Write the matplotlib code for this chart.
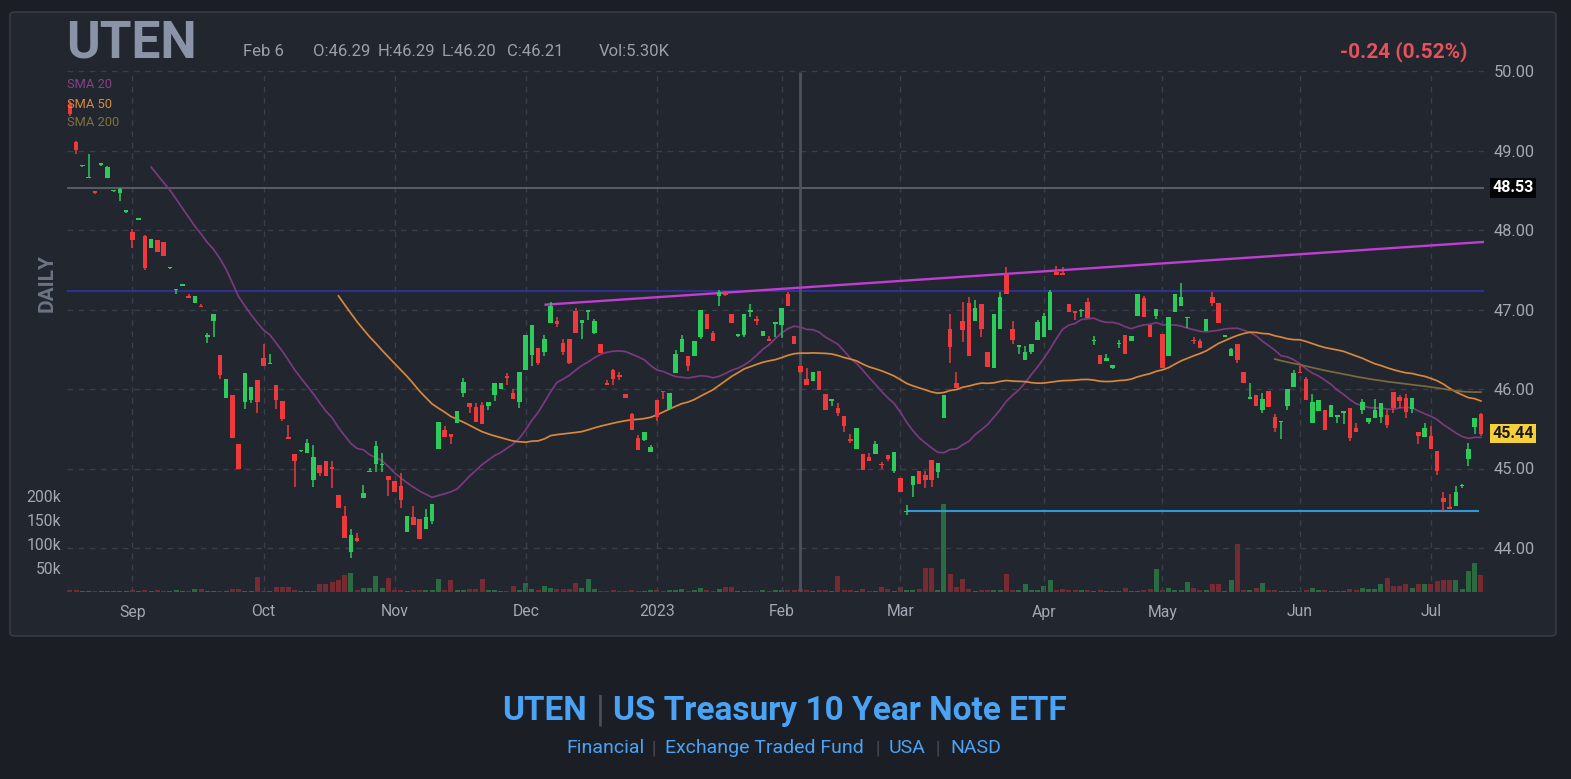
import numpy as np
import pandas as pd
import matplotlib
matplotlib.use('Agg')
import matplotlib.pyplot as plt
from matplotlib.patches import FancyBboxPatch
import matplotlib.transforms as mtransforms

plt.rcParams['font.family'] = ['Roboto', 'DejaVu Sans']

# ---------------- data ----------------
ticker = 'UTEN'
fund_name = 'US Treasury 10 Year Note ETF'
tags = ['Financial', 'Exchange Traded Fund', 'USA', 'NASD']
first_session = -10          # sessions counted from 1 Sep 2022 (= 0)

opens = [
    49.59, 49.11, 48.80, 48.65, 48.49, 48.82, 48.65, 48.49, 48.46, 48.23,   # -10..-1
    47.98, 48.13, 47.92, 47.77, 47.87, 47.85, 47.52, 47.24, 47.30, 47.16,   # 0..9
    47.08, 47.04, 46.66, 46.85, 46.43, 45.89, 45.92, 45.31, 45.84, 45.86,   # 10..19
    46.11, 46.39, 46.31, 46.05, 45.85, 45.39, 45.18, 45.22, 45.20, 44.86,   # 20..29
    45.05, 45.09, 45.01, 44.67, 44.40, 43.95, 44.12, 44.63, 44.95, 45.06,   # 30..39
    45.04, 44.91, 44.84, 44.78, 44.20, 44.39, 44.36, 44.24, 44.34, 45.25,   # 40..49
    45.48, 45.44, 45.57, 45.95, 45.82, 45.77, 45.80, 45.78, 45.92, 46.00,   # 50..59
    46.15, 45.95, 45.84, 46.24, 46.43, 46.52, 46.47, 46.83, 46.85, 46.58,   # 60..69
    46.63, 46.98, 46.83, 46.97, 46.71, 46.57, 46.07, 46.24, 46.18, 45.94,   # 70..79
    45.69, 45.38, 45.36, 45.21, 45.86, 45.97, 45.75, 46.20, 46.47, 46.42,   # 80..89
    46.42, 46.66, 46.94, 46.70, 47.17, 47.22, 46.94, 46.67, 46.68, 46.97,   # 90..99
    46.88, 46.67, 46.62, 46.82, 46.81, 47.19, 46.67, 46.29, 46.13, 46.10,   # 100..109
    46.23, 45.94, 45.85, 45.76, 45.66, 45.37, 45.25, 45.18, 45.15, 45.18,   # 110..119
    45.06, 45.17, 44.97, 44.88, 44.45, 44.79, 44.97, 44.92, 45.11, 44.96,   # 120..129
    45.64, 46.75, 46.07, 46.85, 47.08, 46.85, 47.07, 46.47, 46.26, 46.76,   # 130..139
    47.43, 46.76, 46.53, 46.37, 46.47, 46.62, 46.65, 46.74, 47.47, 47.46,   # 140..149
    47.07, 46.98, 46.98, 47.09, 46.60, 46.43, 46.35, 46.27, 46.56, 46.68,   # 150..159
    46.61, 46.92, 47.14, 46.81, 46.92, 46.69, 46.41, 46.97, 47.05, 46.89,   # 160..169
    46.61, 46.60, 46.73, 47.16, 47.08, 46.66, 46.41, 46.57, 46.21, 45.88,   # 170..179
    45.92, 45.74, 45.97, 45.65, 45.58, 45.78, 46.02, 46.22, 46.12, 45.57,   # 180..189
    45.72, 45.74, 45.65, 45.65, 45.70, 45.76, 45.51, 45.74, 45.59, 45.64,   # 190..199
    45.65, 45.67, 45.96, 45.90, 45.89, 45.75, 45.46, 45.40, 45.41, 45.22,   # 200..209
    44.63, 44.52, 44.53, 44.78, 45.12, 45.52, 45.68,                        # 210..216
]
highs = [
    49.62, 49.12, 48.81, 48.96, 48.49, 48.83, 48.81, 48.50, 48.53, 48.24,
    48.01, 48.14, 47.94, 47.89, 47.87, 47.85, 47.53, 47.26, 47.31, 47.19,
    47.17, 47.07, 46.70, 46.94, 46.43, 46.12, 45.92, 45.31, 46.20, 46.02,
    46.11, 46.56, 46.44, 46.05, 45.85, 45.55, 45.18, 45.23, 45.37, 45.29,
    45.05, 45.09, 45.09, 44.67, 44.53, 44.24, 44.19, 44.79, 45.01, 45.35,
    45.20, 44.91, 44.84, 44.94, 44.40, 44.53, 44.36, 44.49, 44.55, 45.59,
    45.53, 45.44, 45.72, 46.14, 45.82, 45.82, 45.84, 45.84, 46.07, 46.07,
    46.20, 46.00, 46.22, 46.68, 46.80, 46.52, 46.68, 47.09, 46.91, 46.63,
    46.63, 47.02, 46.87, 47.00, 46.88, 46.57, 46.11, 46.25, 46.22, 45.94,
    45.70, 45.42, 45.46, 45.30, 45.86, 45.98, 45.95, 46.49, 46.68, 46.42,
    46.60, 46.99, 46.94, 46.73, 47.25, 47.23, 46.94, 46.68, 46.94, 47.07,
    46.92, 46.73, 46.67, 46.84, 47.02, 47.22, 46.67, 46.29, 46.27, 46.22,
    46.23, 45.94, 45.86, 45.82, 45.66, 45.44, 45.51, 45.18, 45.19, 45.34,
    45.08, 45.17, 45.21, 44.88, 44.54, 44.90, 44.97, 44.97, 45.11, 45.07,
    45.92, 46.94, 46.21, 47.10, 47.16, 47.12, 47.07, 46.47, 46.94, 47.22,
    47.53, 46.85, 46.55, 46.54, 46.57, 46.87, 46.95, 47.25, 47.55, 47.53,
    47.07, 46.98, 47.01, 47.15, 46.67, 46.43, 46.44, 46.30, 46.62, 46.68,
    46.67, 47.19, 47.17, 46.81, 47.01, 46.69, 46.90, 47.20, 47.33, 46.90,
    46.66, 46.63, 46.88, 47.22, 47.08, 46.68, 46.51, 46.57, 46.21, 46.08,
    45.92, 45.95, 45.97, 45.69, 45.59, 46.00, 46.24, 46.29, 46.15, 45.94,
    45.86, 45.74, 45.80, 45.66, 45.72, 45.76, 45.57, 45.88, 45.64, 45.87,
    45.82, 45.74, 45.96, 45.93, 45.94, 45.89, 45.46, 45.57, 45.53, 45.22,
    44.71, 44.68, 44.78, 44.81, 45.32, 45.64, 45.70,
]
lows = [
    49.44, 48.96, 48.79, 48.65, 48.45, 48.81, 48.65, 48.48, 48.37, 48.22,
    47.77, 48.12, 47.50, 47.77, 47.72, 47.67, 47.51, 47.20, 47.29, 47.15,
    47.08, 47.03, 46.58, 46.66, 46.13, 45.89, 45.38, 44.99, 45.75, 45.82,
    45.70, 46.29, 46.31, 45.75, 45.60, 45.37, 44.77, 45.21, 45.20, 44.77,
    44.90, 44.91, 44.76, 44.50, 44.13, 43.88, 44.07, 44.63, 44.95, 44.96,
    44.96, 44.65, 44.70, 44.50, 44.20, 44.29, 44.11, 44.24, 44.30, 45.25,
    45.39, 45.31, 45.57, 45.90, 45.70, 45.59, 45.56, 45.73, 45.85, 46.00,
    46.05, 45.88, 45.76, 46.24, 46.29, 46.30, 46.42, 46.83, 46.78, 46.43,
    46.31, 46.70, 46.63, 46.87, 46.69, 46.45, 46.05, 46.05, 46.11, 45.89,
    45.48, 45.23, 45.34, 45.21, 45.60, 45.88, 45.75, 46.20, 46.47, 46.23,
    46.42, 46.63, 46.75, 46.61, 47.04, 47.17, 46.83, 46.66, 46.65, 46.90,
    46.80, 46.67, 46.61, 46.65, 46.64, 47.04, 46.57, 46.20, 46.05, 46.10,
    45.99, 45.74, 45.79, 45.66, 45.46, 45.32, 45.25, 44.98, 45.09, 45.18,
    45.00, 45.09, 44.94, 44.70, 44.42, 44.64, 44.81, 44.76, 44.77, 44.88,
    45.64, 46.33, 46.01, 46.59, 46.41, 46.85, 46.66, 46.28, 46.26, 46.76,
    47.20, 46.57, 46.44, 46.37, 46.44, 46.62, 46.65, 46.74, 47.43, 47.43,
    46.97, 46.87, 46.90, 46.89, 46.55, 46.31, 46.35, 46.25, 46.52, 46.44,
    46.61, 46.92, 46.91, 46.65, 46.88, 46.27, 46.41, 46.97, 47.05, 46.77,
    46.57, 46.52, 46.73, 47.04, 46.83, 46.65, 46.41, 46.33, 46.07, 45.88,
    45.79, 45.70, 45.77, 45.46, 45.37, 45.74, 46.02, 46.20, 45.86, 45.57,
    45.72, 45.48, 45.65, 45.57, 45.56, 45.35, 45.46, 45.69, 45.56, 45.64,
    45.57, 45.51, 45.70, 45.76, 45.64, 45.70, 45.31, 45.40, 45.24, 44.92,
    44.46, 44.49, 44.53, 44.75, 45.03, 45.44, 45.41,
]
closes = [
    49.46, 49.01, 48.80, 48.66, 48.46, 48.82, 48.79, 48.49, 48.51, 48.23,
    47.87, 48.13, 47.52, 47.89, 47.72, 47.67, 47.52, 47.26, 47.30, 47.15,
    47.17, 47.03, 46.67, 46.94, 46.17, 46.12, 45.38, 44.99, 46.20, 46.02,
    45.84, 46.29, 46.32, 45.86, 45.62, 45.37, 45.09, 45.22, 45.32, 45.14,
    44.94, 44.91, 45.00, 44.50, 44.13, 44.16, 44.09, 44.69, 44.96, 45.28,
    45.05, 44.85, 44.70, 44.60, 44.40, 44.29, 44.11, 44.39, 44.55, 45.59,
    45.39, 45.39, 45.72, 46.09, 45.77, 45.59, 45.56, 45.84, 46.07, 46.07,
    46.14, 45.88, 46.22, 46.68, 46.80, 46.33, 46.63, 47.04, 46.82, 46.47,
    46.33, 46.70, 46.87, 46.98, 46.85, 46.45, 46.05, 46.13, 46.15, 45.89,
    45.48, 45.23, 45.46, 45.27, 45.65, 45.96, 45.95, 46.44, 46.63, 46.29,
    46.60, 46.99, 46.75, 46.61, 47.22, 47.18, 46.83, 46.67, 46.94, 46.98,
    46.86, 46.73, 46.61, 46.84, 47.02, 47.04, 46.57, 46.21, 46.05, 46.22,
    45.99, 45.74, 45.86, 45.70, 45.53, 45.35, 45.51, 44.98, 45.09, 45.31,
    45.04, 45.12, 45.21, 44.70, 44.46, 44.90, 44.81, 44.85, 44.85, 45.07,
    45.92, 46.53, 46.01, 46.74, 46.41, 47.02, 46.76, 46.28, 46.94, 47.16,
    47.20, 46.62, 46.55, 46.47, 46.57, 46.84, 46.92, 47.22, 47.43, 47.43,
    46.97, 46.95, 47.00, 46.89, 46.62, 46.31, 46.39, 46.30, 46.57, 46.44,
    46.67, 47.19, 46.91, 46.65, 47.01, 46.27, 46.90, 47.20, 47.16, 46.90,
    46.60, 46.52, 46.88, 47.08, 46.83, 46.66, 46.50, 46.36, 46.07, 45.89,
    45.79, 45.87, 45.77, 45.51, 45.59, 46.00, 46.20, 46.20, 45.86, 45.84,
    45.86, 45.48, 45.80, 45.66, 45.72, 45.38, 45.46, 45.84, 45.64, 45.74,
    45.82, 45.55, 45.76, 45.85, 45.71, 45.89, 45.41, 45.51, 45.24, 44.97,
    44.58, 44.49, 44.70, 44.79, 45.25, 45.64, 45.44,
]
volumes_k = [
    4, 4, 2, 2, 2, 2, 2, 2, 2, 2,
    4, 2, 4, 2, 4, 2, 2, 4, 2, 2,
    6, 6, 2, 2, 2, 2, 6, 6, 2, 2,
    31, 2, 2, 10, 10, 10, 4, 2, 2, 2,
    17, 17, 21, 25, 35, 40, 4, 8, 8, 33,
    8, 29, 4, 4, 2, 4, 4, 4, 4, 27,
    4, 25, 4, 4, 6, 6, 27, 4, 4, 2,
    2, 12, 4, 18, 6, 4, 12, 8, 6, 6,
    6, 18, 8, 27, 6, 2, 2, 4, 2, 2,
    4, 2, 2, 4, 4, 2, 4, 4, 6, 2,
    4, 8, 4, 2, 6, 10, 10, 2, 2, 2,
    2, 4, 2, 4, 4, 4, 4, 5.3, 4, 2,
    4, 4, 2, 33, 4, 4, 2, 6, 2, 2,
    10, 6, 2, 10, 4, 4, 6, 50, 50, 4,
    183, 37, 10, 27, 6, 2, 4, 4, 4, 4,
    37, 4, 4, 17, 4, 4, 12, 25, 4, 6,
    4, 4, 4, 4, 2, 4, 2, 2, 2, 8,
    2, 2, 4, 6, 48, 4, 8, 4, 4, 21,
    8, 4, 4, 17, 17, 2, 25, 100, 4, 4,
    8, 19, 4, 4, 2, 2, 2, 2, 4, 8,
    4, 4, 2, 2, 2, 6, 4, 8, 6, 6,
    17, 29, 12, 12, 17, 8, 17, 17, 17, 23,
    25, 25, 25, 6, 44, 60, 35,
]
# closes of the sessions before the visible window (warm-up for the moving averages)
prior_closes = [49.70, 49.60, 49.40, 49.50, 49.60, 49.40]

sma_periods = [20, 50, 200]
month_sessions = [0, 21, 42, 63, 84, 104, 123, 146, 165, 187, 208]
month_labels = ['Sep', 'Oct', 'Nov', 'Dec', '2023', 'Feb', 'Mar', 'Apr', 'May', 'Jun', 'Jul']
price_ticks = [44, 45, 46, 47, 48, 49, 50]
volume_ticks_k = [50, 100, 150, 200]

level_gray = 48.53
level_blue = 47.23
support_level = 44.47
support_start = 124
trend_sessions = [66, 216.5]
trend_prices = [47.06, 47.85]
crosshair_session = 107
last_close = 45.44
hover_date = 'Feb 6'
hover_ohlc = [('O', 46.29), ('H', 46.29), ('L', 46.20), ('C', 46.21)]
hover_vol = '5.30K'
change_abs = -0.24
change_pct = 0.52

# ---------------- layout helpers ----------------
W, H = 1571, 779
fig = plt.figure(figsize=(W / 100, H / 100), dpi=100)
fig.patch.set_facecolor('#1b1e25')


def fx(x):
    return x / W


def fy(y):
    return 1 - y / H


card = FancyBboxPatch((fx(10), fy(636)), fx(1556) - fx(10), fy(12) - fy(636),
                      boxstyle='round,pad=0,rounding_size=0.004',
                      transform=fig.transFigure, facecolor='#22262e',
                      edgecolor='#3b3f48', linewidth=1.0, zorder=-10)
fig.add_artist(card)

L_, R_, T_, B_ = 67, 1484, 66, 592
PX_PER_UNIT = 79.5
PX_PER_K = 0.48

ax_vol = fig.add_axes([fx(L_), fy(B_), fx(R_) - fx(L_), fy(T_) - fy(B_)])
ax = ax_vol.twinx()
for a in (ax_vol, ax):
    a.set_facecolor('none')
    a.patch.set_alpha(0)
    for s in a.spines.values():
        s.set_visible(False)

x = np.arange(len(closes)) + first_session
o = np.array(opens); h = np.array(highs); l = np.array(lows); c = np.array(closes)
up = c >= o

xmin = first_session - 0.48
xmax = x[-1] + 0.5
ax_vol.set_xlim(xmin, xmax)
y_top = 50 + (71 - T_) / PX_PER_UNIT
y_bot = 50 - (B_ - 71) / PX_PER_UNIT
y_grid_top = 50 - 1 / PX_PER_UNIT
ax.set_ylim(y_bot, y_top)
ax_vol.set_ylim(0, (B_ - T_) / PX_PER_K)

# volume
vcol = np.where(up, '#2c6f43', '#7e2b33')
ax_vol.bar(x, volumes_k, width=0.8, color=vcol, linewidth=0, alpha=0.95, zorder=2)
ax_vol.set_yticks(volume_ticks_k)
ax_vol.set_yticklabels([f'{v}k' for v in volume_ticks_k])
ax_vol.tick_params(axis='y', left=True, right=False, labelleft=True, labelright=False,
                   length=0, pad=4, labelsize=11.3, labelcolor='#a3a9b4')

# grid
grid_kw = dict(color='#3a3f4a', lw=1, ls=(0, (4, 4)), zorder=0)
for p in price_ticks:
    ax.axhline(p, **grid_kw)
ax.vlines(month_sessions, y_bot, y_grid_top, **grid_kw)

# reference lines
ax.axhline(level_gray, color='#686c75', lw=1.1, zorder=1)
ax.axhline(level_blue, color='#2e3190', lw=1.5, zorder=1)
ax.plot(trend_sessions, trend_prices, color='#bf3fd2', lw=1.7, zorder=2, solid_capstyle='butt')
ax.hlines(support_level, support_start, x[-1] - 0.3, color='#2b9ad8', lw=1.5, zorder=2)
ax.vlines(crosshair_session, y_bot, y_grid_top, color='#4d525b', lw=2, zorder=1)

# moving averages
all_close = pd.Series(prior_closes + closes)
all_x = np.arange(len(all_close)) + first_session - len(prior_closes)
sma_colors = ['#7a3a7e', '#d8873c', '#7c6a3b']
for n, col in zip(sma_periods, sma_colors):
    ax.plot(all_x, all_close.rolling(n).mean(), color=col, lw=1.25, zorder=3)

# candles
ccol = np.where(up, '#2dca5c', '#f0393d')
ax.vlines(x, l, h, colors=ccol, lw=1.1, zorder=4)
body_h = np.maximum(np.abs(c - o), 0.018)
ax.bar(x, body_h, bottom=np.minimum(o, c), width=0.72, color=ccol, linewidth=0, zorder=5)

# price axis labels (right)
ax.set_yticks(price_ticks)
ax.set_yticklabels([f'{p:.2f}' for p in price_ticks])
ax.tick_params(axis='y', length=0, pad=7, labelsize=11.8, labelcolor='#a3a9b4')

# month labels
ax_vol.set_xticks(month_sessions)
ax_vol.set_xticklabels(month_labels)
ax_vol.tick_params(axis='x', length=0, pad=9, labelsize=11.3, labelcolor='#a3a9b4')

# price tags on the right
tr = mtransforms.blended_transform_factory(ax.transAxes, ax.transData)
ax.text(1.0058, level_gray, f'{level_gray:.2f}', transform=tr, ha='left', va='center',
        fontsize=11.5, fontweight='bold', color='white', zorder=10, clip_on=False,
        bbox=dict(boxstyle='square,pad=0.15', facecolor='#050505', edgecolor='none'))
ax.text(1.0058, last_close, f'{last_close:.2f}', transform=tr, ha='left', va='center',
        fontsize=11.5, fontweight='bold', color='#1a1a1a', zorder=10, clip_on=False,
        bbox=dict(boxstyle='square,pad=0.15', facecolor='#f5d03b', edgecolor='none'))

# header
fig.text(fx(66), fy(43), ticker, fontsize=37, fontweight='bold', color='#8b93a7',
         ha='left', va='center')
hdr_kw = dict(fontsize=12, color='#9aa0ab', ha='left', va='center')
fig.text(fx(243), fy(52), hover_date, **hdr_kw)
for k, (lab, val) in enumerate(hover_ohlc):
    fig.text(fx(313 + 64.5 * k), fy(52), f'{lab}:{val:.2f}', **hdr_kw)
fig.text(fx(599), fy(52), f'Vol:{hover_vol}', **hdr_kw)
fig.text(fx(1467), fy(52), f'{change_abs:.2f} ({change_pct:.2f}%)', fontsize=15,
         fontweight='bold', color='#e8505b', ha='right', va='center')

# legend
for yy, n, col in zip([85, 104, 122], sma_periods, ['#8a3e8d', '#dc8a3c', '#83703c']):
    fig.text(fx(67), fy(yy), f'SMA {n}', fontsize=9.3, color=col, ha='left', va='center')

fig.text(fx(47), fy(283), 'DAILY', rotation=90, fontsize=15, fontweight='bold',
         color='#6c7383', ha='center', va='center')

# footer title
blue = '#4aa3f5'
sep = '#4b505b'
fig.text(fx(587), fy(711), ticker, fontsize=24, fontweight='bold', color=blue, ha='right', va='center')
fig.text(fx(600), fy(710), '|', fontsize=26, color=sep, ha='center', va='center')
fig.text(fx(613), fy(711), fund_name, fontsize=24, fontweight='bold', color=blue, ha='left', va='center')

tag_x = [566, 665, 889, 950]
sep_x = [654, 878, 938]
for tx, t in zip(tag_x, tags):
    fig.text(fx(tx), fy(748), t, fontsize=14, color=blue, ha='left', va='center')
for sx in sep_x:
    fig.text(fx(sx), fy(748), '|', fontsize=13, color=sep, ha='center', va='center')

fig.savefig('out.png', dpi=100, facecolor=fig.get_facecolor())
